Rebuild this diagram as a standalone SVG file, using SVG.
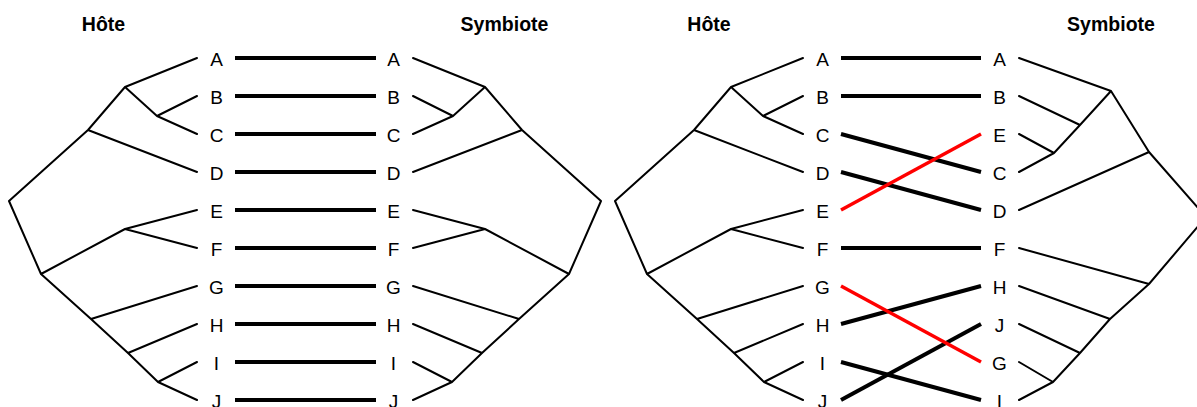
<svg xmlns="http://www.w3.org/2000/svg" width="1197" height="407" viewBox="0 0 1197 407">
<style>
.t{fill:none;stroke:#000;stroke-width:2;stroke-linecap:round;stroke-linejoin:round}
.c{stroke:#000;stroke-width:4}
.r{stroke:#f00;stroke-width:3.5}
.lb{font-family:"Liberation Sans",Arial,sans-serif;font-size:19px;fill:#000;text-anchor:middle}
.ti{font-family:"Liberation Sans",Arial,sans-serif;font-size:19.5px;font-weight:bold;fill:#000;text-anchor:middle}
</style>
<rect width="1197" height="407" fill="#fff"/>
<g id="titles">
<text class="ti" x="103.5" y="31">Hôte</text>
<text class="ti" x="504.5" y="31">Symbiote</text>
<text class="ti" x="709" y="31">Hôte</text>
<text class="ti" x="1111" y="31">Symbiote</text>
</g>
<g id="host-tree-left">
<path class="t" d="M197,58 L125,87 L88,130 L9,201 L41,274 L91,319 L128,353 L158,382 L197,400 M197,96 L157,116 L197,134 M157,116 L125,87 M88,130 L197,172 M197,210 L125,229 L197,248 M125,229 L41,274 M91,319 L197,286 M128,353 L197,324 M158,382 L197,362"/>
<g class="lb">
<text x="216.5" y="65.5">A</text><text x="216.5" y="103.5">B</text><text x="216.5" y="141.5">C</text><text x="216.5" y="179.5">D</text><text x="216.5" y="217.5">E</text><text x="216.5" y="255.5">F</text><text x="216.5" y="293.5">G</text><text x="216.5" y="331.5">H</text><text x="216.5" y="369.5">I</text><text x="216.5" y="407.5">J</text>
</g>
</g>
<g id="symb-tree-left">
<path class="t" d="M413,58 L485,87 L522,130 L601,201 L569,274 L519,319 L482,353 L452,382 L413,400 M413,96 L453,116 L413,134 M453,116 L485,87 M522,130 L413,172 M413,210 L485,229 L413,248 M485,229 L569,274 M519,319 L413,286 M482,353 L413,324 M452,382 L413,362"/>
<g class="lb">
<text x="393.5" y="65.5">A</text><text x="393.5" y="103.5">B</text><text x="393.5" y="141.5">C</text><text x="393.5" y="179.5">D</text><text x="393.5" y="217.5">E</text><text x="393.5" y="255.5">F</text><text x="393.5" y="293.5">G</text><text x="393.5" y="331.5">H</text><text x="393.5" y="369.5">I</text><text x="393.5" y="407.5">J</text>
</g>
</g>
<g id="host-tree-right">
<path class="t" d="M803,58 L731,87 L694,130 L615,201 L647,274 L697,319 L734,353 L764,382 L803,400 M803,96 L763,116 L803,134 M763,116 L731,87 M694,130 L803,172 M803,210 L731,229 L803,248 M731,229 L647,274 M697,319 L803,286 M734,353 L803,324 M764,382 L803,362"/>
<g class="lb">
<text x="822.5" y="65.5">A</text><text x="822.5" y="103.5">B</text><text x="822.5" y="141.5">C</text><text x="822.5" y="179.5">D</text><text x="822.5" y="217.5">E</text><text x="822.5" y="255.5">F</text><text x="822.5" y="293.5">G</text><text x="822.5" y="331.5">H</text><text x="822.5" y="369.5">I</text><text x="822.5" y="407.5">J</text>
</g>
</g>
<g id="symb-tree-right">
<path class="t" d="M1019,58 L1111,91 L1149,152 L1206,217 L1149,284 L1110,319 L1080,353 L1053,382 L1019,400 M1019,96 L1080,125 M1019,134 L1054,153 L1019,172 M1054,153 L1080,125 L1111,91 M1149,152 L1019,210 M1149,284 L1019,248 M1110,319 L1019,286 M1080,353 L1019,324 M1053,382 L1019,362"/>
<g class="lb">
<text x="999.5" y="65.5">A</text><text x="999.5" y="103.5">B</text><text x="999.5" y="141.5">E</text><text x="999.5" y="179.5">C</text><text x="999.5" y="217.5">D</text><text x="999.5" y="255.5">F</text><text x="999.5" y="293.5">H</text><text x="999.5" y="331.5">J</text><text x="999.5" y="369.5">G</text><text x="999.5" y="407.5">I</text>
</g>
</g>
<g id="connectors">
<line class="c" x1="235" y1="58" x2="376" y2="58"/>
<line class="c" x1="235" y1="96" x2="376" y2="96"/>
<line class="c" x1="235" y1="134" x2="376" y2="134"/>
<line class="c" x1="235" y1="172" x2="376" y2="172"/>
<line class="c" x1="235" y1="210" x2="376" y2="210"/>
<line class="c" x1="235" y1="248" x2="376" y2="248"/>
<line class="c" x1="235" y1="286" x2="376" y2="286"/>
<line class="c" x1="235" y1="324" x2="376" y2="324"/>
<line class="c" x1="235" y1="362" x2="376" y2="362"/>
<line class="c" x1="235" y1="400" x2="376" y2="400"/>
<line class="c" x1="841" y1="58" x2="981" y2="58"/>
<line class="c" x1="841" y1="96" x2="981" y2="96"/>
<line class="c" x1="841" y1="134" x2="981" y2="172"/>
<line class="c" x1="841" y1="172" x2="981" y2="210"/>
<line class="c" x1="841" y1="248" x2="981" y2="248"/>
<line class="c" x1="841" y1="324" x2="981" y2="286"/>
<line class="c" x1="841" y1="362" x2="981" y2="400"/>
<line class="c" x1="841" y1="400" x2="981" y2="324"/>
<line class="r" x1="841" y1="210" x2="981" y2="134"/>
<line class="r" x1="841" y1="286" x2="981" y2="362"/>
</g>
</svg>
